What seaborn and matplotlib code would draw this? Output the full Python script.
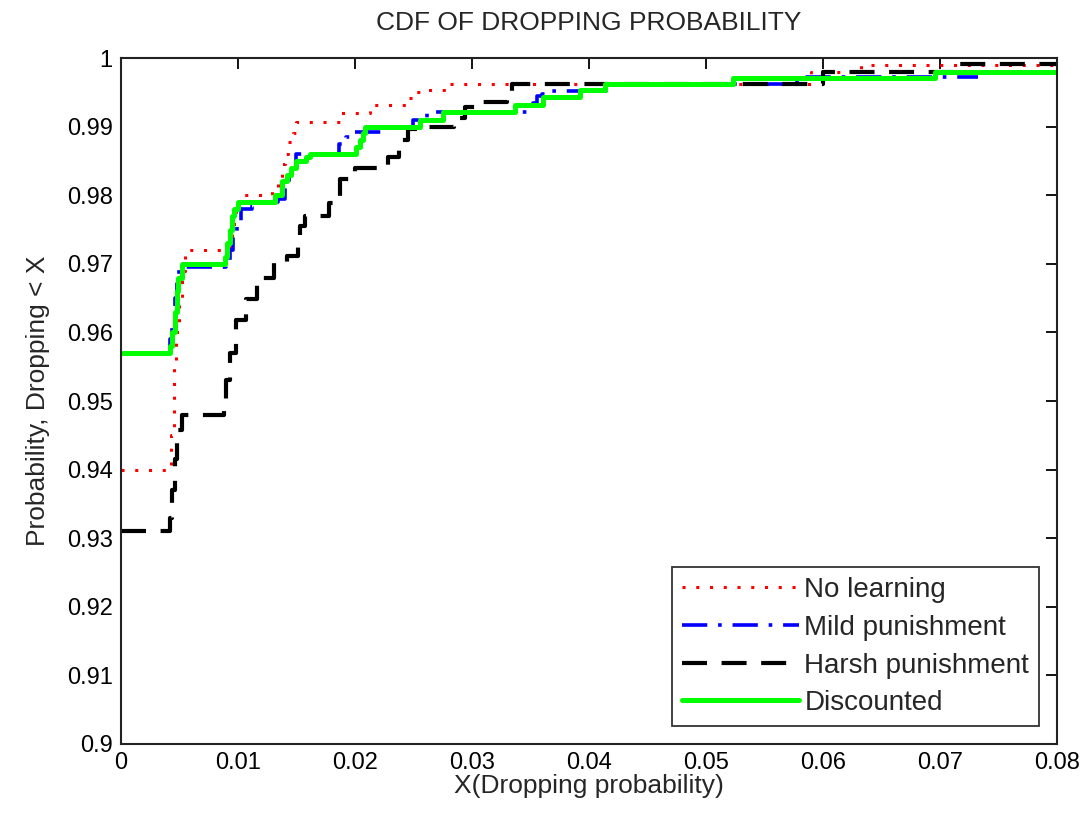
import numpy as np
import pandas as pd
import matplotlib
matplotlib.use('Agg')
import matplotlib.pyplot as plt
import seaborn as sns

# step points (x where the CDF jumps, value after the jump)
no_learning_x = [0, 0.0043, 0.0045, 0.0047, 0.0050, 0.0052, 0.0055, 0.0093, 0.0095, 0.0097,
                 0.0100, 0.0104, 0.0129, 0.0134, 0.0138, 0.0140, 0.0143, 0.0147, 0.0150,
                 0.0187, 0.0213, 0.0245, 0.0250, 0.0262, 0.0278, 0.0590, 0.0633, 0.08]
no_learning_y = [0.940, 0.945, 0.955, 0.960, 0.965, 0.969, 0.972, 0.973, 0.975, 0.9775,
                 0.979, 0.980, 0.981, 0.982, 0.9845, 0.986, 0.9877, 0.989, 0.9907,
                 0.992, 0.9932, 0.9942, 0.995, 0.9954, 0.9962, 0.998, 0.999, 0.999]

mild_x = [0, 0.0042, 0.0044, 0.0046, 0.0048, 0.0050, 0.0090, 0.0093, 0.0096, 0.0099,
          0.0103, 0.0112, 0.0118, 0.0134, 0.0140, 0.0144, 0.0147, 0.0150, 0.0186,
          0.0192, 0.0200, 0.0224, 0.0250, 0.0262, 0.0352, 0.0356, 0.0360, 0.0367,
          0.0415, 0.0578, 0.0733]
mild_y = [0.957, 0.959, 0.962, 0.965, 0.968, 0.9695, 0.970, 0.972, 0.974, 0.976,
          0.978, 0.9785, 0.979, 0.9795, 0.981, 0.983, 0.984, 0.986, 0.9875,
          0.9885, 0.9892, 0.990, 0.991, 0.9921, 0.9935, 0.9945, 0.9948, 0.9952,
          0.9962, 0.9972, 0.9972]

harsh_x = [0, 0.0042, 0.0044, 0.0046, 0.0048, 0.0052, 0.0088, 0.0090, 0.0093, 0.0098,
           0.0107, 0.0116, 0.0131, 0.0142, 0.0151, 0.0153, 0.0157, 0.0178, 0.0187,
           0.0200, 0.0228, 0.0238, 0.0245, 0.0262, 0.0285, 0.0294, 0.0303, 0.0330,
           0.0334, 0.0600, 0.0711, 0.08]
harsh_y = [0.931, 0.933, 0.937, 0.9415, 0.9458, 0.948, 0.9495, 0.953, 0.957, 0.9618,
           0.9648, 0.968, 0.9702, 0.9712, 0.9735, 0.9755, 0.977, 0.9789, 0.9823,
           0.984, 0.9856, 0.988, 0.9896, 0.990, 0.9913, 0.9929, 0.9936, 0.9947,
           0.9962, 0.998, 0.9991, 0.9991]

disc_x = [0, 0.0042, 0.0044, 0.0046, 0.0048, 0.0049, 0.0052, 0.0089, 0.0091, 0.0093,
          0.0095, 0.0097, 0.0100, 0.0132, 0.0138, 0.0142, 0.0145, 0.0150, 0.0158,
          0.0162, 0.0201, 0.0204, 0.0207, 0.0209, 0.0256, 0.0275, 0.0337, 0.0361,
          0.0392, 0.0414, 0.0523, 0.0696, 0.08]
disc_y = [0.957, 0.958, 0.960, 0.963, 0.966, 0.968, 0.970, 0.971, 0.973, 0.975,
          0.977, 0.978, 0.979, 0.980, 0.982, 0.983, 0.984, 0.985, 0.9855,
          0.986, 0.987, 0.988, 0.989, 0.990, 0.991, 0.9921, 0.9932, 0.9943,
          0.9953, 0.9962, 0.9971, 0.998, 0.998]

x_labels = ['0', '0.01', '0.02', '0.03', '0.04', '0.05', '0.06', '0.07', '0.08']
y_labels = ['0.9', '0.91', '0.92', '0.93', '0.94', '0.95', '0.96', '0.97', '0.98', '0.99', '1']

sns.set_style('white')
plt.rcParams['font.family'] = ['Liberation Sans', 'DejaVu Sans']

fig = plt.figure(figsize=(10.85, 8.23), dpi=100)
ax = fig.add_axes([0.1115, 0.096, 0.8625, 0.8335])

series = [
    ('No learning', no_learning_x, no_learning_y, (1, 0, 0), (0, (1, 3.5)), 2.2),
    ('Mild punishment', mild_x, mild_y, (0, 0, 1), (0, (7, 3, 1, 3)), 2.6),
    ('Harsh punishment', harsh_x, harsh_y, 'black', (0, (6, 3.5)), 3.0),
    ('Discounted', disc_x, disc_y, (0, 1, 0), '-', 3.6),
]
for name, xs, ys, col, ls, lw in series:
    df = pd.DataFrame({'x': xs, 'y': ys})
    sns.lineplot(data=df, x='x', y='y', ax=ax, estimator=None, sort=False,
                 drawstyle='steps-post', color=col, linestyle=ls, linewidth=lw,
                 label=name)

ax.set_xlim(0, 0.08)
ax.set_ylim(0.9, 1.0)
ax.set_xticks(np.arange(0, 0.081, 0.01))
ax.set_xticklabels(x_labels)
ax.set_yticks(np.arange(0.9, 1.001, 0.01))
ax.set_yticklabels(y_labels)
ax.tick_params(direction='in', length=8, width=1.3, labelsize=17, top=True, right=True,
               colors='black', pad=6)
for s in ax.spines.values():
    s.set_linewidth(1.5)
    s.set_color('#222222')

ax.set_title('CDF OF DROPPING PROBABILITY', fontsize=19, pad=20)
ax.set_xlabel('X(Dropping probability)', fontsize=19, labelpad=0)
ax.set_ylabel('Probability, Dropping < X', fontsize=19, labelpad=12)

leg = ax.legend(loc='lower right', fontsize=20, handlelength=4.2, frameon=True,
                fancybox=False, edgecolor='black', borderpad=0.35, labelspacing=0.42,
                handletextpad=0.2, borderaxespad=0.65)
leg.get_frame().set_linewidth(1.3)

fig.savefig('out.png', dpi=100)
